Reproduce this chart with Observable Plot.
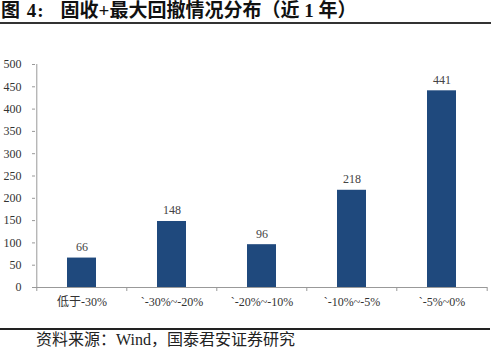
<!DOCTYPE html>
<html><head><meta charset="utf-8">
<script src="https://cdn.jsdelivr.net/npm/d3@7"></script>
<script src="https://cdn.jsdelivr.net/npm/@observablehq/plot@0.6"></script>
<style>
body{margin:0;background:#fff;width:500px;font-family:"Liberation Serif","Noto Sans CJK SC",serif;}
#title{height:22px;width:490px;border-bottom:2px solid #333;font-size:19px;font-weight:bold;line-height:22px;padding-left:1px;box-sizing:content-box;color:#111;white-space:nowrap;}
#title .n{margin-right:16px;letter-spacing:1px}
#src{width:490px;border-top:2px solid #222;font-size:16px;line-height:20px;padding-left:36px;box-sizing:border-box;color:#222;}
</style></head>
<body>
<div id="title"><span class="n">图 4:</span>固收+最大回撤情况分布（近 1 年）</div>
<div id="chart"></div>
<div id="src">资料来源：Wind，国泰君安证券研究</div>
<script>
const categories = ["低于-30%", "`-30%~-20%", "`-20%~-10%", "`-10%~-5%", "`-5%~0%"];
const counts = [66, 148, 96, 218, 441];
const yTicks = [0, 50, 100, 150, 200, 250, 300, 350, 400, 450, 500];

const data = categories.map((c, i) => ({cat: c, v: counts[i]}));
const W = 500, H = 304, mL = 35, mR = 13, mT = 40, mB = 41;
const bw = (W - mL - mR) / categories.length;
const font = "'Liberation Serif','Noto Sans CJK SC',serif";

const chart = Plot.plot({
  width: W, height: H,
  marginLeft: mL, marginRight: mR, marginTop: mT, marginBottom: mB,
  style: {fontFamily: font, fontSize: "12px", color: "#333", background: "#fff"},
  x: {domain: categories, paddingInner: 0.68, paddingOuter: 0.34, label: null},
  y: {domain: [0, 500], label: null},
  marks: [
    Plot.barY(data, {x: "cat", y: "v", fill: "#1f497d"}),
    Plot.text(data, {x: "cat", y: "v", text: d => String(d.v), dy: -11, fill: "#444", fontSize: 12}),
    Plot.axisY({ticks: yTicks, tickSize: 3, tickPadding: 11, stroke: "#999", fill: "#333", fontSize: 12}),
    Plot.axisX({tickSize: 0, tickPadding: 10, fill: "#333", fontSize: 12}),
    Plot.ruleY([0], {stroke: "#999"}),
    Plot.ruleX(categories, {x: d => d, dx: -bw / 2, y1: 0, y2: -9, stroke: "#999"}),
    Plot.ruleX(categories.slice(-1), {x: d => d, dx: bw / 2, y1: 0, y2: -9, stroke: "#999"}),
    Plot.ruleX(categories.slice(0, 1), {x: d => d, dx: -bw / 2, y1: 0, y2: 500, stroke: "#999"})
  ]
});
document.getElementById("chart").appendChild(chart);
</script>
</body></html>
